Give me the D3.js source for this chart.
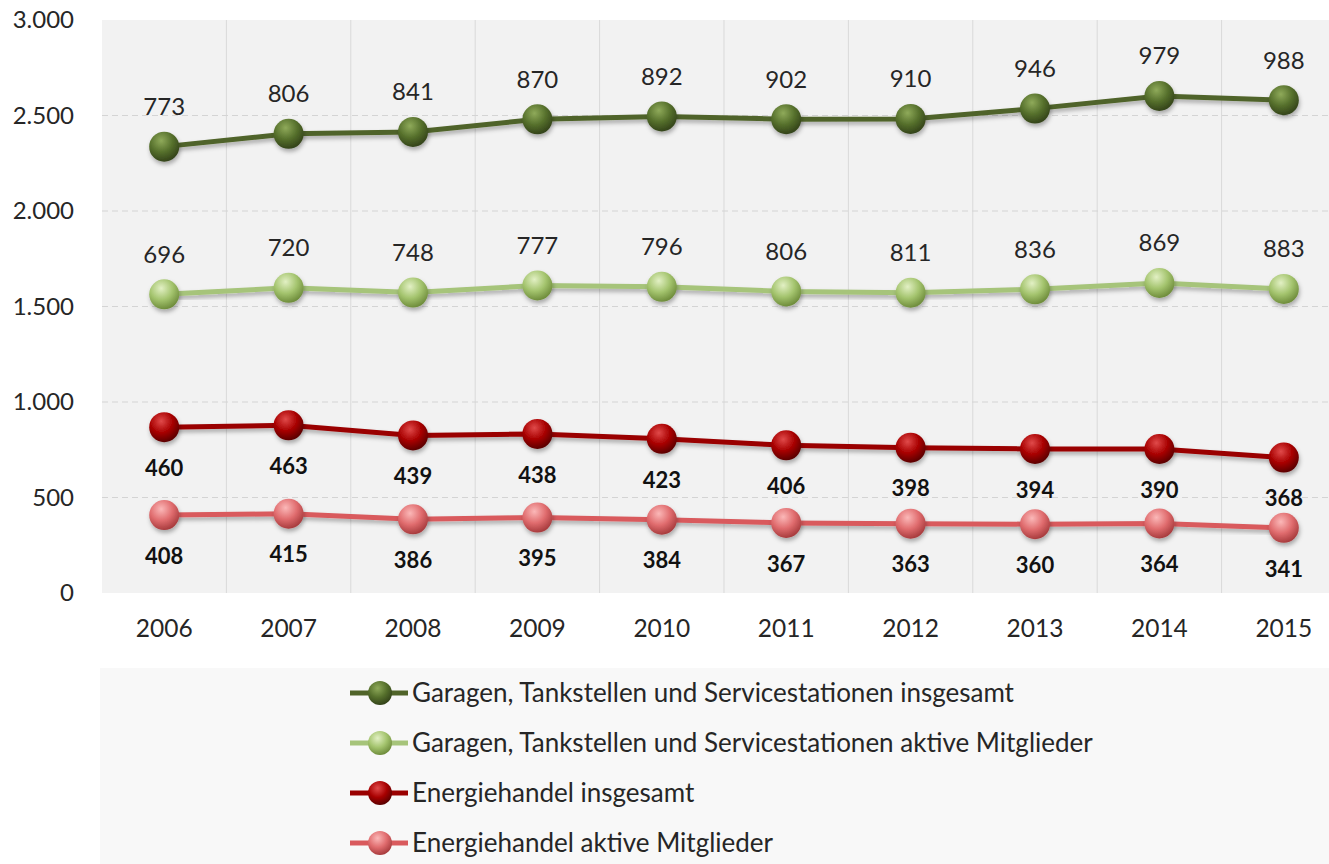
<!DOCTYPE html>
<html>
<head>
<meta charset="utf-8">
<script src="https://cdn.jsdelivr.net/npm/d3@7"></script>
<style>
  body { margin: 0; background: #fff; }
  svg { display: block; font-family: Lato, "Open Sans", sans-serif; }
</style>
</head>
<body>
<div class="chart"></div>
<script>
const years = ["2006", "2007", "2008", "2009", "2010", "2011", "2012", "2013", "2014", "2015"];
const garagenInsgesamt = [773, 806, 841, 870, 892, 902, 910, 946, 979, 988];
const garagenAktiv = [696, 720, 748, 777, 796, 806, 811, 836, 869, 883];
const energieInsgesamt = [460, 463, 439, 438, 423, 406, 398, 394, 390, 368];
const energieAktiv = [408, 415, 386, 395, 384, 367, 363, 360, 364, 341];
const yTicks = [0, 500, 1000, 1500, 2000, 2500, 3000];

// bottom of the stack first
const series = [
  { key: "ea", name: "Energiehandel aktive Mitglieder", values: energieAktiv,
    line: "#d95a5d", light: "#fbb8b8", base: "#e06c6e", dark: "#a83c3e", above: false },
  { key: "ei", name: "Energiehandel insgesamt", values: energieInsgesamt,
    line: "#9a0000", light: "#e04a4a", base: "#a80000", dark: "#5c0000", above: false },
  { key: "ga", name: "Garagen, Tankstellen und Servicestationen aktive Mitglieder", values: garagenAktiv,
    line: "#a6c47a", light: "#e2f0c4", base: "#a4c46e", dark: "#6f8d3c", above: true },
  { key: "gi", name: "Garagen, Tankstellen und Servicestationen insgesamt", values: garagenInsgesamt,
    line: "#506429", light: "#8faa5a", base: "#56702c", dark: "#34441a", above: true }
];
const legendOrder = ["gi", "ga", "ei", "ea"];

const W = 1329, H = 864;
const plot = { left: 102, right: 1346, top: 20, bottom: 593 };

const de = d3.formatLocale({ decimal: ",", thousands: ".", grouping: [3], currency: ["", "€"] });
const fmt = de.format(",.0f");

const rows = years.map((y, i) => {
  const r = { year: y };
  series.forEach(s => r[s.key] = s.values[i]);
  return r;
});
const stacked = d3.stack().keys(series.map(s => s.key))(rows);

const x = d3.scaleBand().domain(years).range([plot.left, plot.right]);
const y = d3.scaleLinear().domain([0, 3000]).range([plot.bottom, plot.top]);

const svg = d3.select(".chart").append("svg")
  .attr("width", W).attr("height", H);

const defs = svg.append("defs");
series.forEach(s => {
  const g = defs.append("radialGradient").attr("id", "ball-" + s.key)
    .attr("cx", "40%").attr("cy", "30%").attr("r", "70%");
  g.append("stop").attr("offset", "0%").attr("stop-color", s.light);
  g.append("stop").attr("offset", "55%").attr("stop-color", s.base);
  g.append("stop").attr("offset", "100%").attr("stop-color", s.dark);
});
const shadow = defs.append("filter").attr("id", "shadow")
  .attr("x", "-50%").attr("y", "-50%").attr("width", "200%").attr("height", "200%");
shadow.append("feDropShadow").attr("dx", 1).attr("dy", 3).attr("stdDeviation", 2)
  .attr("flood-color", "#000").attr("flood-opacity", 0.3);

// plot background
svg.append("rect")
  .attr("x", plot.left).attr("y", plot.top)
  .attr("width", plot.right - plot.left).attr("height", plot.bottom - plot.top)
  .attr("fill", "#f2f2f2");

// legend background
svg.append("rect")
  .attr("x", 100).attr("y", 668).attr("width", W - 100).attr("height", H - 668)
  .attr("fill", "#f8f8f8");

// gridlines
svg.append("g").selectAll("line")
  .data(years.slice(1))
  .join("line")
  .attr("x1", d => x(d)).attr("x2", d => x(d))
  .attr("y1", plot.top).attr("y2", plot.bottom)
  .attr("stroke", "#d9d9d9").attr("stroke-width", 1);

svg.append("g").selectAll("line")
  .data(yTicks.filter(t => t > 0 && t < 3000))
  .join("line")
  .attr("x1", plot.left).attr("x2", plot.right)
  .attr("y1", d => y(d)).attr("y2", d => y(d))
  .attr("stroke", "#d4d4d4").attr("stroke-width", 1)
  .attr("stroke-dasharray", "6,4");

// axes
const yAxis = d3.axisLeft(y).tickValues(yTicks).tickFormat(fmt).tickSize(0).tickPadding(0);
svg.append("g")
  .attr("transform", "translate(74,0)")
  .call(yAxis)
  .call(g => g.select(".domain").remove())
  .selectAll("text")
  .attr("font-family", "Lato, sans-serif")
  .attr("font-size", 24)
  .attr("fill", "#262626")
  .attr("dy", "0.32em");

const xAxis = d3.axisBottom(x).tickSize(0).tickPadding(0);
svg.append("g")
  .attr("transform", "translate(0,620)")
  .call(xAxis)
  .call(g => g.select(".domain").remove())
  .selectAll("text")
  .attr("font-family", "Lato, sans-serif")
  .attr("font-size", 24.5)
  .attr("fill", "#262626");

// lines
const line = d3.line()
  .x(d => x(d.data.year) + x.bandwidth() / 2)
  .y(d => y(d[1]));

series.forEach((s, si) => {
  const layer = stacked[si];
  const g = svg.append("g");
  g.append("path")
    .datum(layer)
    .attr("d", line)
    .attr("fill", "none")
    .attr("stroke", s.line)
    .attr("stroke-width", 5)
    .attr("filter", "url(#shadow)");
  g.selectAll("circle")
    .data(layer)
    .join("circle")
    .attr("cx", d => x(d.data.year) + x.bandwidth() / 2)
    .attr("cy", d => y(d[1]))
    .attr("r", 15)
    .attr("fill", "url(#ball-" + s.key + ")")
    .attr("filter", "url(#shadow)");
  g.selectAll("text")
    .data(layer)
    .join("text")
    .attr("x", d => x(d.data.year) + x.bandwidth() / 2)
    .attr("y", d => y(d[1]) + (s.above ? -40 : 41))
    .attr("dy", "0.35em")
    .attr("text-anchor", "middle")
    .attr("font-size", s.above ? 24 : 22)
    .attr("font-weight", s.above ? "normal" : "bold")
    .attr("fill", s.above ? "#262626" : "#111")
    .text(d => d.data[s.key]);
});

// legend
const legend = svg.append("g");
legendOrder.forEach((k, i) => {
  const s = series.find(d => d.key === k);
  const cy = 693 + i * 50;
  const item = legend.append("g").attr("transform", `translate(0,${cy})`);
  item.append("line")
    .attr("x1", 350).attr("x2", 408).attr("y1", 0).attr("y2", 0)
    .attr("stroke", s.line).attr("stroke-width", 5);
  item.append("circle")
    .attr("cx", 380).attr("cy", 0).attr("r", 12)
    .attr("fill", "url(#ball-" + s.key + ")");
  item.append("text")
    .attr("x", 412).attr("y", 0).attr("dy", "0.35em")
    .attr("font-size", 26)
    .attr("fill", "#262626")
    .text(s.name);
});
</script>
</body>
</html>
